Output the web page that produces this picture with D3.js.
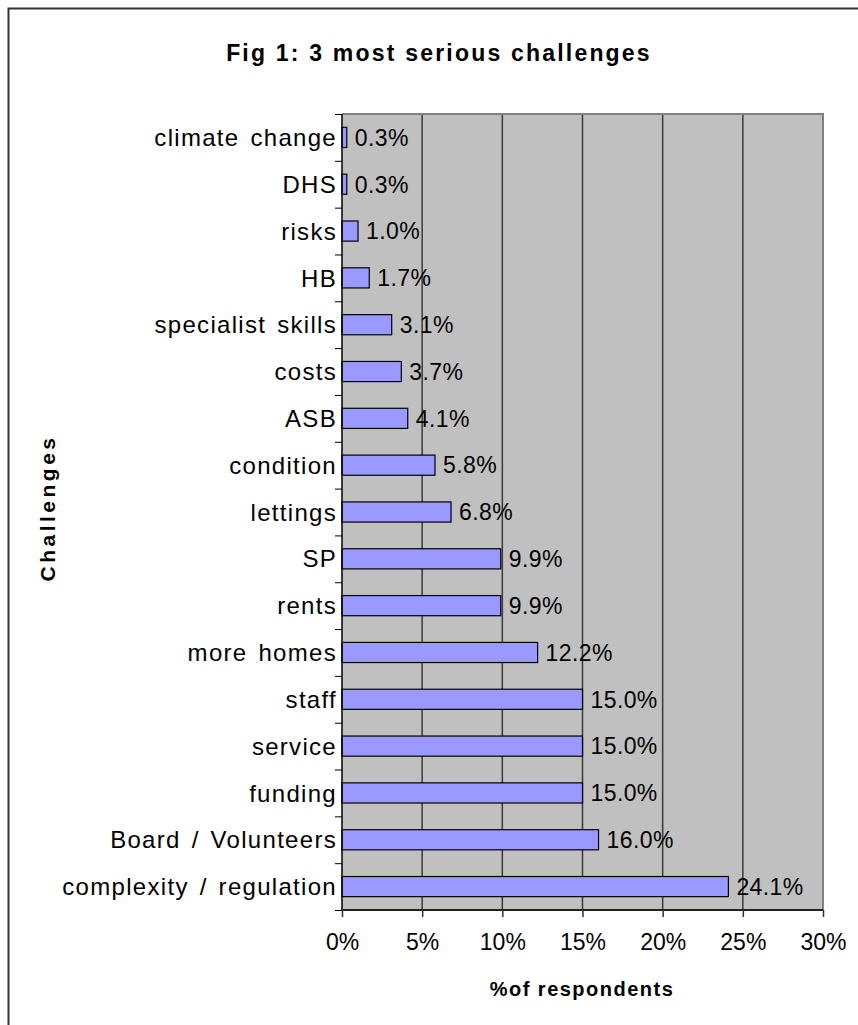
<!DOCTYPE html>
<html>
<head>
<meta charset="utf-8">
<script src="https://cdn.jsdelivr.net/npm/d3@7"></script>
<style>
  body { margin: 0; background: #fff; }
  svg text { font-family: "Liberation Sans", Arial, sans-serif; fill: #000; }
</style>
</head>
<body>
<svg></svg>
<script>
// data, top to bottom
let categories = ['climate change', 'DHS', 'risks', 'HB', 'specialist skills', 'costs', 'ASB',
  'condition', 'lettings', 'SP', 'rents', 'more homes', 'staff', 'service', 'funding',
  'Board / Volunteers', 'complexity / regulation']
let values = [0.3, 0.3, 1.0, 1.7, 3.1, 3.7, 4.1, 5.8, 6.8, 9.9, 9.9, 12.2, 15.0, 15.0, 15.0, 16.0, 24.1]
let xTicks = [0, 5, 10, 15, 20, 25, 30]

let width = 858
let height = 1025
let plotLeft = 342, plotRight = 823, plotTop = 114, plotBottom = 910

let svg = d3.select('svg').attr('width', width).attr('height', height)

// outer frame, only left and top edges fall inside the picture
svg.append('rect')
    .attr('x', 8.5).attr('y', 8.5)
    .attr('width', 900).attr('height', 1100)
    .attr('fill', 'none')
    .attr('stroke', '#333').attr('stroke-width', 2)

let xScale = d3.scaleLinear().domain([0, 30]).range([plotLeft, plotRight])
let yScale = d3.scaleBand().domain(categories).range([plotTop, plotBottom]).paddingInner(0.57).paddingOuter(0.285)
let yEdge = d3.scaleLinear().domain([0, categories.length]).range([plotTop, plotBottom])

// plot area
svg.append('rect')
    .attr('x', plotLeft).attr('y', plotTop)
    .attr('width', plotRight - plotLeft).attr('height', plotBottom - plotTop)
    .attr('fill', '#c0c0c0')

svg.append('g')
    .selectAll('line')
    .data(xTicks.filter(d => d > 0 && d < 30))
    .enter()
    .append('line')
    .attr('x1', d => xScale(d)).attr('x2', d => xScale(d))
    .attr('y1', plotTop).attr('y2', plotBottom)
    .attr('stroke', '#3a3a3a').attr('stroke-width', 1.5)

// grey top and right border
svg.append('path')
    .attr('d', 'M' + plotLeft + ',' + plotTop + 'H' + plotRight + 'V' + plotBottom)
    .attr('fill', 'none')
    .attr('stroke', '#808080').attr('stroke-width', 2)

// bars
svg.selectAll('.bar')
    .data(values)
    .enter()
    .append('rect')
    .attr('class', 'bar')
    .attr('x', plotLeft)
    .attr('y', (d, i) => yScale(categories[i]))
    .attr('width', d => xScale(d) - plotLeft)
    .attr('height', yScale.bandwidth())
    .attr('fill', '#9999ff')
    .attr('stroke', '#000').attr('stroke-width', 1.2)

// value labels
svg.selectAll('.val')
    .data(values)
    .enter()
    .append('text')
    .attr('class', 'val')
    .attr('x', d => xScale(d) + 8)
    .attr('y', (d, i) => yScale(categories[i]) + yScale.bandwidth() / 2)
    .attr('dy', '0.36em')
    .style('font-size', '23px')
    .style('letter-spacing', '0.4px')
    .text(d => d.toFixed(1) + '%')

// y axis: ticks on band edges, labels in the middle
let yTickAxis = d3.axisLeft(yEdge).tickValues(d3.range(categories.length + 1)).tickSize(7).tickFormat('')
svg.append('g')
    .attr('transform', 'translate(' + plotLeft + ',0)')
    .call(yTickAxis)
    .call(g => g.select('.domain').attr('d', 'M0,' + plotTop + 'V' + plotBottom).attr('stroke', '#000').attr('stroke-width', 1.5))

let yAxis = d3.axisLeft(yScale).tickSize(0).tickPadding(5)
svg.append('g')
    .attr('transform', 'translate(' + plotLeft + ',0)')
    .call(yAxis)
    .call(g => g.select('.domain').remove())
    .call(g => g.selectAll('text')
        .style('font-size', '24px')
        .style('letter-spacing', '1.3px')
        .style('word-spacing', '3px')
        .attr('dy', '0.36em'))

// x axis
let xAxis = d3.axisBottom(xScale).tickValues(xTicks).tickSize(7).tickPadding(17).tickFormat(d => d + '%')
svg.append('g')
    .attr('transform', 'translate(0,' + plotBottom + ')')
    .call(xAxis)
    .call(g => g.select('.domain').attr('d', 'M' + plotLeft + ',0H' + plotRight).attr('stroke', '#222').attr('stroke-width', 2))
    .call(g => g.selectAll('line').attr('stroke', '#333').attr('stroke-width', 1.5))
    .call(g => g.selectAll('text').style('font-size', '23px'))

// titles
svg.append('text')
    .attr('x', 439).attr('y', 61)
    .attr('text-anchor', 'middle')
    .style('font-size', '23px').style('font-weight', 'bold').style('letter-spacing', '2.2px')
    .text('Fig 1: 3 most serious challenges')

svg.append('text')
    .attr('transform', 'translate(55,508) rotate(-90)')
    .attr('text-anchor', 'middle')
    .style('font-size', '21px').style('font-weight', 'bold').style('letter-spacing', '3.5px')
    .text('Challenges')

svg.append('text')
    .attr('x', 582).attr('y', 996)
    .attr('text-anchor', 'middle')
    .style('font-size', '20px').style('font-weight', 'bold').style('letter-spacing', '1.5px')
    .text('%of respondents')
</script>
</body>
</html>
